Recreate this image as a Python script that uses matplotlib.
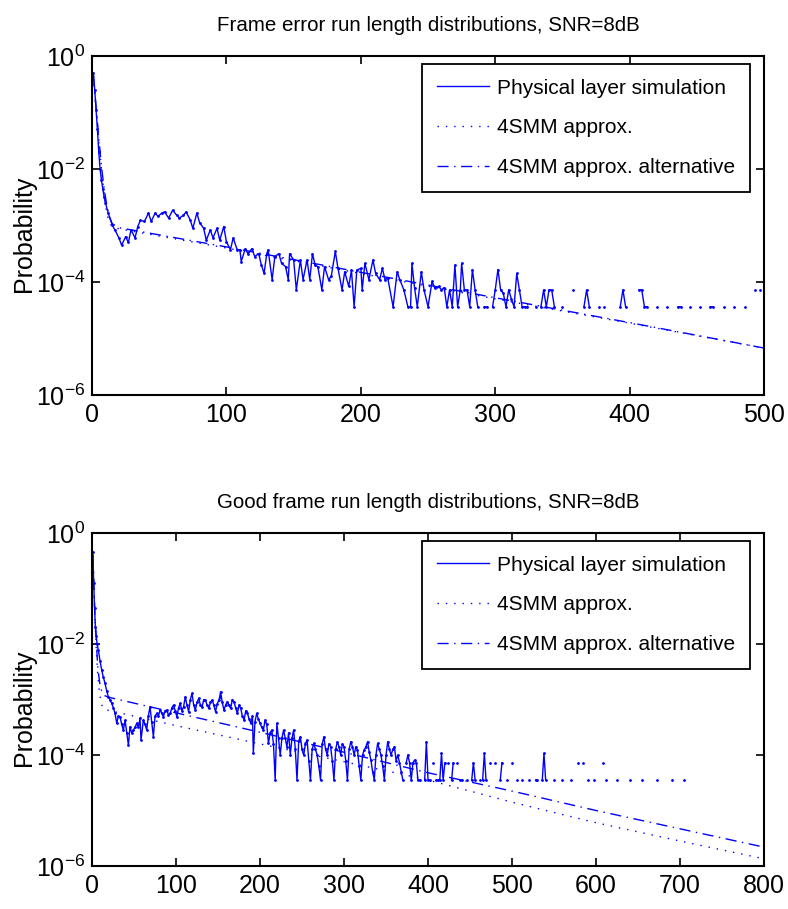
import numpy as np
import matplotlib
matplotlib.use("Agg")
from matplotlib import pyplot as plt

plt.rcParams['font.family'] = ['Liberation Sans', 'DejaVu Sans']
plt.rcParams['mathtext.fontset'] = 'custom'
plt.rcParams['mathtext.rm'] = 'Liberation Sans'

# values are log10(probability), None = no sample (zero count)
err_sim = [(1, -0.3), (2, -0.6), (3, -0.95), (4, -1.3), (5, -1.7), (6, -2.0), (7, -2.2), (8, -2.35),
           (9, -2.5), (10, -2.6), (12, -2.78), (15, -2.99), (17, -3.08), (20, -3.22), (22, -3.35),
           (25, -3.2), (27, -3.3), (29, -3.08), (32, -3.22), (34, -3.02), (36, -2.91), (39, -2.93),
           (42, -2.78), (44, -2.93), (47, -2.78), (49, -2.84), (52, -2.78), (54, -2.76), (57, -2.87),
           (60, -2.73), (63, -2.82), (65, -2.87), (68, -2.82), (70, -2.76), (73, -2.9), (75, -3.05),
           (78, -2.78), (80, -2.95), (83, -3.05), (85, -3.26), (88, -3.08), (90, -3.22), (93, -3.05),
           (95, -3.26), (98, -3.02), (100, -3.29), (103, -3.43), (105, -3.22), (108, -3.43),
           (110, -3.43), (111, -3.64), (114, -3.41), (116, -3.5), (119, -3.41), (121, -3.55),
           (124, -3.5), (126, -3.7), (128, -3.85), (130, -3.5), (131, -3.43), (134, -3.96),
           (136, -3.55), (139, -3.5), (141, -3.67), (144, -3.73), (146, -3.96), (147, -3.5),
           (150, -3.61), (152, -4.14), (155, -3.61), (157, -3.96), (160, -3.61), (162, -3.96),
           (164, -3.5), (166, -3.7), (168, -3.73), (171, -4.14), (173, -3.73), (176, -3.96),
           (178, -3.9), (181, -3.46), (183, -3.76), (186, -4.14), (188, -3.82), (191, -4.08),
           (193, -3.79), (195, -4.44), (197, -3.79), (200, -3.76), (201, -4.14), (203, -3.67),
           (206, -3.96), (209, -3.61), (211, -3.85), (214, -3.96), (216, -3.76), (218, -3.96),
           (220, -3.93), (224, -4.44), (227, -3.82), (229, -3.96), (232, -4.14), (235, -4.44),
           (237, -4.44), (238, -3.67), (240, -4.11), (242, -4.44), (245, -3.82), (247, -4.14),
           (250, -4.44), (253, -3.99), (255, -4.11), (258, -4.08), (260, -4.14), (262, -4.1),
           (264, -4.44), (266, -4.14), (268, -4.44), (270, -3.7), (272, -4.44), (274, -4.14),
           (275, -3.67), (277, -4.14), (279, -4.14), (281, -4.44), (283, -3.78), (285, -4.14),
           (287, -4.44), (289, None), (292, -4.44), (294, -4.44), (296, None), (298, -4.44),
           (300, -4.14), (302, -3.78), (304, -4.14), (306, -4.2), (308, -4.44), (310, -4.14),
           (312, -4.3), (314, -4.44), (316, -3.85), (318, -4.14), (320, -4.44), (322, -4.44),
           (324, -4.44), (326, None), (330, -4.44), (332, None), (334, -4.44), (336, -4.14),
           (338, -4.44), (340, -4.14), (342, -4.14), (344, -4.44), (346, None), (350, -4.44),
           (352, None), (358, -4.14), (360, None), (366, -4.44), (368, -4.14), (370, -4.44),
           (372, None), (377, -4.44), (379, None), (381, -4.44), (383, None), (393, -4.44),
           (395, -4.14), (397, -4.44), (399, None), (407, -4.14), (409, -4.14), (411, -4.44),
           (413, -4.44), (415, None), (420, -4.44), (422, None), (428, -4.44), (430, None),
           (436, -4.44), (438, -4.44), (440, None), (445, -4.44), (447, None), (452, -4.44),
           (454, None), (460, -4.44), (462, -4.44), (464, None), (470, -4.44), (472, None),
           (478, -4.44), (480, None), (486, -4.44), (488, None), (493, -4.14), (495, None),
           (497, -4.14)]
err_4smm = [(1, -0.35), (3, -0.95), (5, -1.5), (7, -2.0), (9, -2.45), (11, -2.8), (13, -2.95),
            (15, -3.02), (20, -3.06), (100, -3.4), (200, -3.85), (300, -4.3), (400, -4.73), (500, -5.17)]
err_4smm_alt = [(1, -0.35), (3, -0.9), (5, -1.45), (7, -1.95), (9, -2.35), (11, -2.65), (13, -2.85),
                (15, -2.97), (20, -3.04), (100, -3.38), (200, -3.83), (300, -4.28), (400, -4.72), (500, -5.17)]

good_sim = [(1, -0.35), (2, -0.9), (3, -1.35), (4, -1.7), (5, -1.85), (6, -2.0), (7.5, -2.11),
            (9.5, -2.3), (11.5, -2.47), (13.5, -2.6), (15.5, -2.71), (17.5, -2.85), (19.4, -2.95),
            (21.4, -3.0), (23.4, -3.07), (25.4, -3.15), (27.4, -3.25), (29.4, -3.43), (31.3, -3.3),
            (33.3, -3.31), (35.3, -3.45), (37.3, -3.55), (39.3, -3.37), (41.3, -3.6), (43.3, -3.82),
            (45.2, -3.49), (47.2, -3.6), (49.2, -3.55), (51.2, -3.5), (53.2, -3.43), (55.2, -3.5),
            (57.1, -3.34), (58.3, -3.73), (61.1, -3.37), (63.1, -3.45), (65.1, -3.55), (67, -3.3),
            (69, -3.13), (71, -3.4), (73, -3.67), (75, -3.3), (77, -3.25), (79, -3.3), (81, -3.19),
            (83, -3.25), (85, -3.31), (87, -3.2), (89, -3.19), (91, -3.28), (93, -3.25), (95, -3.15),
            (97, -3.1), (99, -3.2), (101, -3.31), (103, -3.15), (105, -3.07), (107, -3.2),
            (109, -3.13), (111, -2.95), (113, -3.1), (115, -3.22), (117, -3.0), (119, -2.89),
            (121, -3.1), (123, -3.19), (125, -3.05), (127, -2.98), (129, -3.1), (131, -3.13),
            (133, -3.0), (135, -3.01), (137, -3.1), (139, -3.16), (141, -3.05), (143, -3.01),
            (145, -3.1), (147, -3.22), (149, -3.08), (151, -3.01), (152, -2.95), (153, -2.86),
            (155, -3.05), (157, -3.19), (159, -3.1), (161, -3.04), (163, -3.1), (165, -3.16),
            (167, -3.0), (169, -3.04), (171, -3.15), (173, -3.25), (175, -3.1), (177, -3.16),
            (179, -3.3), (181, -3.37), (183, -3.2), (185, -3.25), (187, -3.35), (189, -3.43),
            (191, -3.3), (192, -3.97), (194, -3.4), (196, -3.25), (198, -3.35), (200, -3.43),
            (202, -3.5), (204, -3.55), (206, -3.37), (208, -3.45), (210, -3.79), (212, -3.6),
            (214, -3.55), (216, -3.8), (218, -4.45), (220, -3.43), (222, -3.7), (224, -4.0),
            (226, -3.7), (228, -3.55), (230, -3.7), (232, -3.85), (234, -3.6), (236, -4.0),
            (238, -3.7), (240, -3.55), (242, -3.9), (244, -4.45), (246, -3.75), (248, -3.67),
            (250, -3.9), (252, -4.0), (254, -3.8), (256, -3.73), (258, -4.1), (260, -4.45),
            (262, -3.9), (264, -3.79), (266, -3.9), (268, -4.0), (270, -4.2), (272, -4.45),
            (274, -3.8), (276, -3.67), (278, -3.9), (280, -4.0), (282, -3.8), (284, -3.85),
            (286, -4.1), (288, -4.45), (290, -3.9), (292, -3.76), (294, -3.85), (296, -4.0),
            (298, -3.8), (300, -3.85), (302, -4.1), (304, -4.45), (306, -3.9), (308, -3.76),
            (310, -3.85), (312, -4.0), (314, -3.85), (316, -3.91), (318, -4.2), (320, -4.45),
            (322, -4.0), (324, -3.91), (326, -3.85), (328, -3.76), (330, -3.95), (332, -4.09),
            (334, -4.3), (336, -4.45), (338, -4.0), (340, -3.79), (342, -3.9), (344, -4.0),
            (346, -4.2), (348, -4.45), (350, -4.0), (352, -3.76), (354, -3.9), (356, -4.0),
            (358, -3.9), (360, -3.85), (362, -4.1), (364, -4.0), (366, -4.14), (368, -4.3),
            (370, -4.45), (372, None), (374, -4.14), (376, -4.0), (378, -4.14), (380, -4.45),
            (382, -4.14), (384, -4.09), (386, -4.14), (388, -4.45), (390, -4.45), (392, None),
            (396, -4.45), (398, -3.76), (400, -4.45), (402, -4.45), (404, None), (406, -4.14),
            (408, None), (410, -4.45), (412, -4.45), (414, -4.45), (416, -3.97), (418, -4.45),
            (420, -4.14), (422, None), (424, -4.14), (426, None), (428, -4.45), (430, -4.14),
            (432, None), (434, -4.14), (436, None), (438, -4.45), (440, -4.45), (442, None),
            (446, -4.45), (448, None), (452, -4.45), (454, -4.14), (456, -4.45), (458, None),
            (462, -4.45), (463, None), (465, -4.45), (467, -3.97), (469, -4.45), (471, None),
            (474, -4.14), (476, None), (480, -4.14), (482, None), (486, -4.45), (488, -4.14),
            (490, None), (494, -4.45), (496, None), (500, -4.14), (502, None), (506, -4.45),
            (508, None), (512, -4.45), (514, None), (520, -4.45), (522, None), (528, -4.45),
            (530, -4.45), (532, None), (536, -4.45), (538, -3.97), (540, -4.45), (542, None),
            (550, -4.45), (552, None), (560, -4.45), (562, None), (570, -4.45), (572, None),
            (578, -4.14), (580, None), (584, -4.14), (586, None), (590, -4.45), (592, None),
            (598, -4.45), (600, None), (608, -4.14), (610, None), (612, -4.45), (614, None),
            (625, -4.45), (627, None), (640, -4.45), (642, None), (655, -4.45), (657, None),
            (672, -4.45), (674, None), (690, -4.45), (692, None), (705, -4.45)]
good_4smm = [(1, -0.4), (3, -1.35), (5, -2.1), (7, -2.6), (9, -2.9), (12, -3.12), (15, -3.18),
             (100, -3.47), (200, -3.8), (300, -4.12), (400, -4.45), (500, -4.85), (600, -5.22),
             (700, -5.55), (800, -5.87)]
good_4smm_alt = [(1, -0.4), (3, -1.3), (5, -1.95), (7, -2.45), (10, -2.8), (15, -2.93), (20, -2.96),
                 (100, -3.24), (200, -3.59), (300, -3.95), (400, -4.32), (500, -4.65), (600, -5.0),
                 (700, -5.33), (800, -5.66)]

titles = ["Frame error run length distributions, SNR=8dB",
          "Good frame run length distributions, SNR=8dB"]
legend_labels = ["Physical layer simulation", "4SMM approx.", "4SMM approx. alternative"]
xmax = [500, 800]


def to_xy(pairs):
    x = np.array([p[0] for p in pairs], dtype=float)
    y = np.array([np.nan if p[1] is None else 10.0 ** p[1] for p in pairs])
    return x, y


fig = plt.figure(figsize=(7.88, 9.09), dpi=100)
ax1 = fig.add_axes([0.1168, 0.5655, 0.8528, 0.373])
ax2 = fig.add_axes([0.1168, 0.0473, 0.8528, 0.3663])

blue = (0, 0, 1)
for ax, sim, m1, m2, title, xm in zip([ax1, ax2], [err_sim, good_sim], [err_4smm, good_4smm],
                                       [err_4smm_alt, good_4smm_alt], titles, xmax):
    x, y = to_xy(sim)
    ax.plot(x, y, color=blue, lw=1.0, label=legend_labels[0])
    ax.plot(x, y, color=blue, ls='none', marker='.', ms=2.0)
    x, y = to_xy(m1)
    ax.plot(x, y, color=blue, lw=1.0, dashes=(1, 5), label=legend_labels[1])
    x, y = to_xy(m2)
    ax.plot(x, y, color=blue, lw=1.0, dashes=(8, 4, 1, 4), label=legend_labels[2])

    ax.set_yscale('log')
    ax.set_xlim(0, xm)
    ax.set_ylim(1e-6, 1)
    ax.set_yticks([1e-6, 1e-4, 1e-2, 1])
    ax.set_yticklabels([r'$10^{-6}$', r'$10^{-4}$', r'$10^{-2}$', r'$10^{0}$'])
    ax.minorticks_off()
    ax.set_xticks(np.arange(0, xm + 1, 100))
    ax.tick_params(direction='in', length=6, width=1.2, top=True, right=True, labelsize=18)
    ax.tick_params(axis='x', pad=6)
    ax.tick_params(axis='y', labelsize=18, pad=5)
    for s in ax.spines.values():
        s.set_linewidth(1.5)
    ax.set_title(title, fontsize=14.8, pad=18)
    ax.set_ylabel("Probability", fontsize=18)
    ax.yaxis.set_label_coords(-0.083, 0.475)
    leg = ax.legend(loc='upper right', bbox_to_anchor=(0.979, 0.976), borderaxespad=0,
                    fontsize=15, fancybox=False, edgecolor='black', framealpha=1,
                    handlelength=2.5, labelspacing=1.0, borderpad=0.7, handletextpad=0.4)
    leg.get_frame().set_linewidth(1.3)

fig.savefig("out.png", dpi=100)
